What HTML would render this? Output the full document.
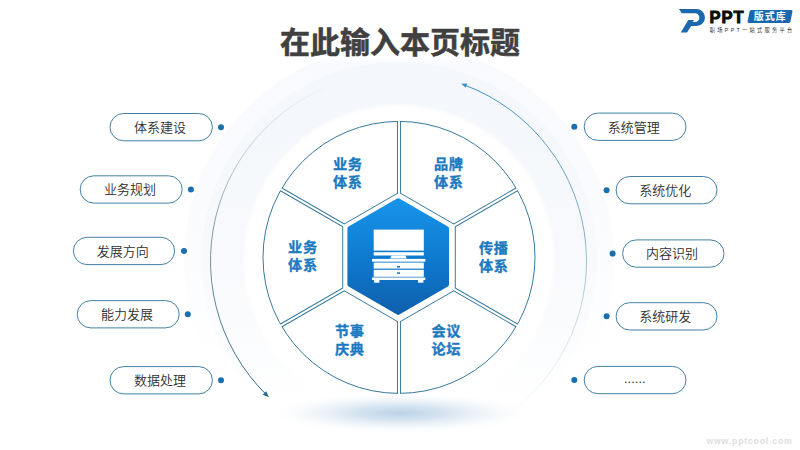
<!DOCTYPE html>
<html lang="zh-CN"><head><meta charset="utf-8"><title>在此输入本页标题</title>
<style>
html,body{margin:0;padding:0;background:#fff;}
body{width:800px;height:450px;overflow:hidden;}
svg{display:block;}
text{font-family:"Liberation Sans","Noto Sans CJK SC",sans-serif;}
.sl{font-size:14.2px;font-weight:bold;fill:#1a79bf;stroke:#1a79bf;stroke-width:0.35px;letter-spacing:0.6px;text-anchor:middle;}
.pl{font-size:13px;font-weight:350;fill:#2e2e2e;text-anchor:middle;}
.title{font-size:30px;font-weight:bold;fill:#404040;stroke:#404040;stroke-width:0.55px;text-anchor:middle;}
.ppt{font-size:16.6px;font-weight:bold;fill:#0a0a0a;stroke:#0a0a0a;stroke-width:0.9px;letter-spacing:0.9px;}
.bsk{font-size:10px;font-weight:bold;fill:#ffffff;text-anchor:middle;letter-spacing:0.9px;}
.sub{font-size:5.2px;fill:#333333;}
.wm{font-size:8.6px;font-weight:bold;fill:#dcdde0;text-anchor:middle;}
</style></head><body>
<svg width="800" height="450" viewBox="0 0 800 450">
<defs>
<linearGradient id="hexg" x1="0" y1="0" x2="0" y2="1"><stop offset="0" stop-color="#1794ea"/><stop offset="0.5" stop-color="#0f7bd0"/><stop offset="1" stop-color="#0e60ad"/></linearGradient>
<linearGradient id="ringo" gradientUnits="userSpaceOnUse" x1="0" y1="45" x2="0" y2="450"><stop offset="0" stop-color="#ffffff"/><stop offset="0.028" stop-color="#ffffff"/><stop offset="0.045" stop-color="#f8fafd"/><stop offset="0.5" stop-color="#fbfcfe"/><stop offset="0.8" stop-color="#ffffff"/><stop offset="1" stop-color="#ffffff"/></linearGradient>
<linearGradient id="ringg" gradientUnits="userSpaceOnUse" x1="0" y1="62" x2="0" y2="450"><stop offset="0" stop-color="#f4f7fb"/><stop offset="0.5" stop-color="#f7f9fc"/><stop offset="0.75" stop-color="#fcfdfe"/><stop offset="0.88" stop-color="#ffffff"/><stop offset="1" stop-color="#ffffff"/></linearGradient>
<filter id="soft" x="-10%" y="-10%" width="120%" height="120%"><feGaussianBlur stdDeviation="1.5"/></filter>
<radialGradient id="shad" cx="0.5" cy="0.5" r="0.5"><stop offset="0" stop-color="#b3cde3" stop-opacity="0.9"/><stop offset="0.35" stop-color="#bdd3e7" stop-opacity="0.6"/><stop offset="0.7" stop-color="#d3e2ef" stop-opacity="0.22"/><stop offset="1" stop-color="#ffffff" stop-opacity="0"/></radialGradient>
<linearGradient id="arcA" gradientUnits="userSpaceOnUse" x1="520" y1="420" x2="460" y2="85"><stop offset="0" stop-color="#9fb6c8" stop-opacity="0"/><stop offset="0.5" stop-color="#6a9dbd" stop-opacity="0.8"/><stop offset="1" stop-color="#3a8fc2"/></linearGradient>
<linearGradient id="arcB" gradientUnits="userSpaceOnUse" x1="330" y1="80" x2="268" y2="396"><stop offset="0" stop-color="#9aa8b8" stop-opacity="0"/><stop offset="0.5" stop-color="#7d93a8" stop-opacity="0.9"/><stop offset="1" stop-color="#2a6a8f"/></linearGradient>
</defs>
<rect width="800" height="450" fill="#ffffff"/>
<circle cx="399" cy="260" r="215" fill="url(#ringo)"/>
<circle cx="399" cy="260" r="198" fill="url(#ringg)"/>
<circle cx="399" cy="260" r="155" fill="#ffffff" filter="url(#soft)"/>
<ellipse cx="400" cy="413" rx="135" ry="21" fill="url(#shad)"/>
<path d="M492.50 423.81 A188.00 188.00 0 0 0 464.34 84.91" fill="none" stroke="url(#arcA)" stroke-width="1"/>
<path d="M365.85 75.86 A188.00 188.00 0 0 0 266.50 394.86" fill="none" stroke="url(#arcB)" stroke-width="1"/>
<polygon points="461.26,83.78 467.17,83.55 465.71,87.69" fill="#3a8fc2"/>
<polygon points="268.85,397.14 262.78,394.82 266.23,391.20" fill="#2a6a8f"/>
<circle cx="399.00" cy="257.40" r="136.00" fill="#ffffff" stroke="#387a9e" stroke-width="1"/>
<line x1="399.00" y1="121.40" x2="399.00" y2="393.40" stroke="#387a9e" stroke-width="4.1"/>
<line x1="516.78" y1="189.40" x2="281.22" y2="325.40" stroke="#387a9e" stroke-width="4.1"/>
<line x1="516.78" y1="325.40" x2="281.22" y2="189.40" stroke="#387a9e" stroke-width="4.1"/>
<polygon points="399.00,192.40 455.29,224.90 455.29,289.90 399.00,322.40 342.71,289.90 342.71,224.90" fill="#ffffff" stroke="#387a9e" stroke-width="1"/>
<line x1="399.00" y1="119.40" x2="399.00" y2="395.40" stroke="#ffffff" stroke-width="2.1"/>
<line x1="518.51" y1="188.40" x2="279.49" y2="326.40" stroke="#ffffff" stroke-width="2.1"/>
<line x1="518.51" y1="326.40" x2="279.49" y2="188.40" stroke="#ffffff" stroke-width="2.1"/>
<polygon points="399.00,201.40 447.50,229.40 447.50,285.40 399.00,313.40 350.50,285.40 350.50,229.40" fill="url(#hexg)" stroke="url(#hexg)" stroke-width="4.6" stroke-linejoin="round" transform="translate(-0.8,-0.8)"/>
<g fill="#ffffff">
<rect x="373.7" y="229.6" width="50.1" height="21"/>
<rect x="373.7" y="252.2" width="50.1" height="3.3"/>
<polygon points="391.5,255.5 405.5,255.5 406.8,258.6 390.2,258.6"/>
<rect x="372.1" y="258.9" width="53.2" height="2.8"/>
<rect x="373.7" y="262.6" width="50.1" height="6"/>
<rect x="373.7" y="269.8" width="50.1" height="7"/>
<rect x="372.1" y="277.5" width="53.2" height="2.5"/>
<rect x="374" y="279.5" width="5.4" height="3.2"/>
<rect x="418" y="279.5" width="5.4" height="3.2"/>
</g>
<rect x="397" y="266" width="3" height="1.5" fill="#1574c4"/>
<rect x="397" y="272.3" width="3" height="1.5" fill="#1574c4"/>
<text x="347.8" y="168.6" class="sl">业务</text><text x="347.8" y="186.6" class="sl">体系</text>
<text x="448.8" y="168.6" class="sl">品牌</text><text x="448.8" y="186.6" class="sl">体系</text>
<text x="302.9" y="252.1" class="sl">业务</text><text x="302.9" y="270.1" class="sl">体系</text>
<text x="493.8" y="252.6" class="sl">传播</text><text x="493.8" y="270.6" class="sl">体系</text>
<text x="349.8" y="335.6" class="sl">节事</text><text x="349.8" y="353.6" class="sl">庆典</text>
<text x="446.3" y="335.6" class="sl">会议</text><text x="446.3" y="353.6" class="sl">论坛</text>
<rect x="110.0" y="113.5" width="102.4" height="27.3" rx="13.65" fill="#ffffff" stroke="#387a9e" stroke-width="0.95"/>
<text x="159.9" y="131.9" class="pl">体系建设</text>
<circle cx="221.0" cy="127.2" r="3" fill="#1a6fae"/>
<rect x="80.2" y="175.8" width="102.0" height="27.3" rx="13.65" fill="#ffffff" stroke="#387a9e" stroke-width="0.95"/>
<text x="129.9" y="194.2" class="pl">业务规划</text>
<circle cx="190.9" cy="189.5" r="3" fill="#1a6fae"/>
<rect x="73.4" y="237.3" width="101.2" height="27.3" rx="13.65" fill="#ffffff" stroke="#387a9e" stroke-width="0.95"/>
<text x="122.7" y="255.7" class="pl">发展方向</text>
<circle cx="184.0" cy="251.0" r="3" fill="#1a6fae"/>
<rect x="77.2" y="300.6" width="102.0" height="27.3" rx="13.65" fill="#ffffff" stroke="#387a9e" stroke-width="0.95"/>
<text x="126.9" y="318.9" class="pl">能力发展</text>
<circle cx="187.8" cy="314.2" r="3" fill="#1a6fae"/>
<rect x="110.0" y="366.6" width="102.4" height="27.3" rx="13.65" fill="#ffffff" stroke="#387a9e" stroke-width="0.95"/>
<text x="159.9" y="384.9" class="pl">数据处理</text>
<circle cx="221.0" cy="380.2" r="3" fill="#1a6fae"/>
<rect x="584.2" y="113.1" width="101.8" height="27.3" rx="13.65" fill="#ffffff" stroke="#387a9e" stroke-width="0.95"/>
<text x="633.8" y="131.5" class="pl">系统管理</text>
<circle cx="574.3" cy="126.8" r="3" fill="#1a6fae"/>
<rect x="616.1" y="176.5" width="100.9" height="27.3" rx="13.65" fill="#ffffff" stroke="#387a9e" stroke-width="0.95"/>
<text x="665.2" y="194.9" class="pl">系统优化</text>
<circle cx="606.6" cy="190.2" r="3" fill="#1a6fae"/>
<rect x="622.6" y="239.9" width="101.4" height="27.3" rx="13.65" fill="#ffffff" stroke="#387a9e" stroke-width="0.95"/>
<text x="672.0" y="258.3" class="pl">内容识别</text>
<circle cx="612.6" cy="253.6" r="3" fill="#1a6fae"/>
<rect x="616.1" y="302.7" width="100.9" height="27.3" rx="13.65" fill="#ffffff" stroke="#387a9e" stroke-width="0.95"/>
<text x="665.2" y="321.0" class="pl">系统研发</text>
<circle cx="606.6" cy="316.3" r="3" fill="#1a6fae"/>
<rect x="584.2" y="366.4" width="101.8" height="27.3" rx="13.65" fill="#ffffff" stroke="#387a9e" stroke-width="0.95"/>
<text x="634.8" y="383.2" class="pl">......</text>
<circle cx="574.3" cy="380.0" r="3" fill="#1a6fae"/>
<text x="400" y="52.5" class="title">在此输入本页标题</text>
<g>
<path d="M679 9 H696.5 A8.5 8.5 0 0 1 696.5 26 H691.2 L687 32.4 H680.8 L688.3 20 H694 L692.7 22 H695 A4.35 4.35 0 0 0 695 13.3 H681.7 Z" fill="#1b68ae"/>
<text x="709.5" y="23.4" class="ppt">PPT</text>
<path d="M751.3 10 L790.8 10 Q792.8 10 792.4 11.8 L790.5 21.4 Q790.2 23 788.4 23 L749 23 Q747.2 23 747.6 21.3 L749.6 11.5 Q749.9 10 751.3 10 Z" fill="#1b68ae"/>
<text x="770.2" y="20.4" class="bsk">版式库</text>
<text x="709.8" y="32" class="sub" textLength="82.5" lengthAdjust="spacing">职场PPT一站式服务平台</text>
</g>
<text x="749.1" y="443.6" class="wm" textLength="85.2" lengthAdjust="spacing">www.pptcool.com</text>
</svg>
</body></html>
